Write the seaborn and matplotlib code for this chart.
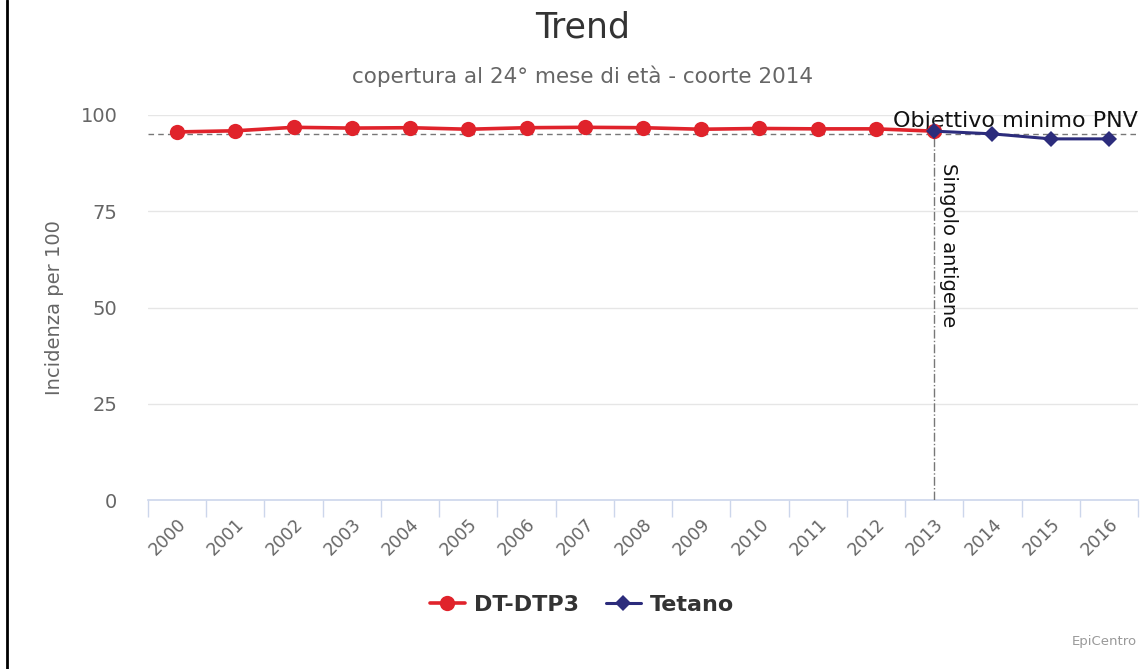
import numpy as np
import pandas as pd
import matplotlib
matplotlib.use("Agg")
import matplotlib.pyplot as plt
import seaborn as sns

# values
years_dtp = [2000, 2001, 2002, 2003, 2004, 2005, 2006, 2007, 2008, 2009, 2010, 2011, 2012, 2013]
dtp3 = [95.6, 95.9, 96.8, 96.6, 96.7, 96.3, 96.7, 96.8, 96.7, 96.3, 96.5, 96.4, 96.4, 95.8]
years_tet = [2013, 2014, 2015, 2016]
tetano = [95.8, 95.1, 93.8, 93.8]
all_years = list(range(2000, 2017))
y_ticks = [0, 25, 50, 75, 100]
target = 95
split_year = 2013

df = pd.concat([
    pd.DataFrame({"anno": years_dtp, "valore": dtp3, "serie": "DT-DTP3"}),
    pd.DataFrame({"anno": years_tet, "valore": tetano, "serie": "Tetano"}),
])

sns.set_style("white")
plt.rcParams["font.family"] = ["DejaVu Sans"]

fig = plt.figure(figsize=(11.45, 6.69), dpi=100)
ax = fig.add_axes([148 / 1145, 1 - 500 / 669, (1138 - 148) / 1145, (500 - 115) / 669])

red = "#e0232b"
navy = "#2c2c7c"

sns.lineplot(data=df[df.serie == "DT-DTP3"], x="anno", y="valore", ax=ax,
             color=red, lw=2.6, marker="o", markersize=11, markeredgewidth=0,
             label="DT-DTP3", zorder=4)
sns.lineplot(data=df[df.serie == "Tetano"], x="anno", y="valore", ax=ax,
             color=navy, lw=2.2, marker="D", markersize=8, markeredgewidth=0,
             label="Tetano", zorder=5)

ax.set_xlim(1999.5, 2016.5)
ax.set_ylim(0, 100)

# grid + axis styling
for v in y_ticks[1:]:
    ax.axhline(v, color="#e6e6e6", lw=1, zorder=0)
for s in ["top", "right", "left"]:
    ax.spines[s].set_visible(False)
ax.spines["bottom"].set_color("#ccd6eb")
ax.spines["bottom"].set_linewidth(1.2)

ax.set_yticks(y_ticks)
ax.set_yticklabels([str(v) for v in y_ticks], fontsize=14, color="#666666")
ax.tick_params(axis="y", length=0, pad=22)

ax.set_xticks(all_years)
ax.set_xticklabels([str(y) for y in all_years], rotation=45, ha="right",
                   rotation_mode="anchor", fontsize=12.5, color="#666666")
ax.tick_params(axis="x", which="major", length=0, pad=11)
ax.set_xticks(np.arange(1999.5, 2017, 1), minor=True)
ax.tick_params(axis="x", which="minor", bottom=True, length=12, width=1, color="#ccd6eb")

ax.set_xlabel("")
ax.set_ylabel("Incidenza per 100", fontsize=14, color="#666666", labelpad=12)

# target line and split line
ax.axhline(target, color="#777777", lw=1, ls=(0, (4, 3)), zorder=3)
ax.text(2016.5, target + 0.9, "Objettivo minimo PNV", ha="right", va="bottom",
        fontsize=16, color="#111111")
ax.axvline(split_year, color="#777777", lw=1, ls="-.", zorder=3)
ax.text(split_year + 0.08, 87.5, "Singolo antigene", rotation=-90, ha="left", va="top",
        fontsize=14, color="#111111")

# titles
fig.text(0.509, 1 - 27 / 669, "Trend", ha="center", va="center", fontsize=25, color="#333333")
fig.text(0.509, 1 - 76 / 669, "copertura al 24° mese di età - coorte 2014", ha="center",
         va="center", fontsize=15.5, color="#666666")

leg = ax.legend(loc="center", bbox_to_anchor=(582 / 1145, 1 - 605 / 669),
                bbox_transform=fig.transFigure, ncol=2, frameon=False,
                prop={"weight": "bold", "size": 16}, handlelength=1.6,
                columnspacing=1.2, handletextpad=0.4)
for t in leg.get_texts():
    t.set_color("#333333")

fig.text(1137 / 1145, 1 - 641 / 669, "EpiCentro", ha="right", va="center",
         fontsize=9.5, color="#999999")

# left border line
fig.add_artist(plt.Line2D([7 / 1145, 7 / 1145], [0, 1], color="black", lw=2,
                          transform=fig.transFigure))

fig.savefig("out.png", dpi=100)
